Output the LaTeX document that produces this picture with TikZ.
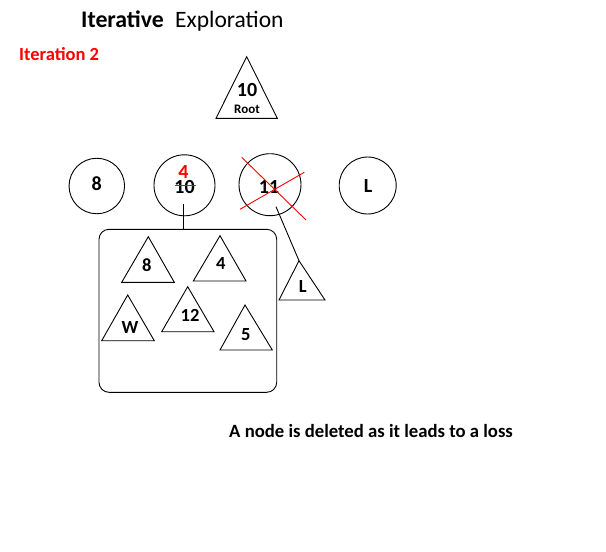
\documentclass[tikz,border=0pt]{standalone}
\usepackage{fontspec}
\setmainfont{Carlito}
\begin{document}
\begin{tikzpicture}[x=1pt,y=-1pt,
  shp/.style={draw=black,line width=0.9pt},
  lbl/.style={anchor=base,inner sep=0pt,text height=0.65em,text depth=0pt,font=\bfseries\fontsize{18.5}{20}\selectfont},
  clbl/.style={anchor=base,inner sep=0pt,text height=0.65em,text depth=0pt,font=\bfseries\fontsize{20}{22}\selectfont},
  circ/.style={draw=black,line width=0.9pt,circle,inner sep=0pt},
  redx/.style={draw=red,line width=0.9pt}]
\useasboundingbox (0,0) rectangle (606,552);
% titles
\node[anchor=base west,inner sep=0pt,font=\bfseries\fontsize{23.8}{26}\selectfont] (t1) at (81,27.5) {Iterative};
\node[anchor=base west,inner sep=0pt,font=\fontsize{23.5}{26}\selectfont] (t2) at (175,27.5) {Exploration};
\node[anchor=base west,inner sep=0pt,text=red,font=\bfseries\fontsize{18.5}{20}\selectfont] (it) at (19,60.5) {Iteration 2};
% root triangle
\draw[shp] (246.7,56.7) coordinate (rA) -- (277.3,118.3) -- (216,118.3) -- cycle;
\node[clbl] (r10) at (247,96) {10};
\node[anchor=base,inner sep=0pt,text height=0.65em,text depth=0pt,font=\bfseries\fontsize{13}{15}\selectfont] (rroot) at (247,113.3) {Root};
% circles
\node[circ,minimum size=55.5pt] (c1) at (96.8,186) {};
\node[clbl] (c1t) at (96.8,190) {8};
\node[circ,minimum size=61pt] (c2) at (184.5,185.3) {};
\node[clbl,text=red] (c2r) at (183.5,178.3) {4};
\node[clbl] (c2t) at (184.5,193.3) {10};
\draw[redx] (175,185.7) coordinate (s1) -- (196,185.7) coordinate (s2);
\node[circ,minimum size=62pt] (c3) at (270,184.7) {};
\node[clbl] (c3t) at (269,193.3) {11};
\draw[redx] (241.7,157.3) coordinate (x1) -- (306,220) coordinate (x2);
\draw[redx] (240,209.3) coordinate (x3) -- (304.3,172.3) coordinate (x4);
\node[circ,minimum size=57pt] (c4) at (367.7,185.5) {};
\node[clbl] (c4t) at (368,192.7) {L};
% box
\node[draw=black,line width=0.9pt,rounded corners=10pt,minimum width=177.7pt,minimum height=163pt,inner sep=0pt] (box) at (187.85,310.8) {};
\coordinate (c2low) at (183.3,204.3);
\draw[shp] (c2low) -- (c2low |- box.north);
% triangle L
\draw[shp] (299,260.7) coordinate (lA) -- (325,300) -- (279,300) -- cycle;
\node[lbl] (lT) at (302.7,292.3) {L};
\coordinate (c3low) at (276,206.7);
\draw[shp] (c3low) -- (lA);
% triangles in box
\draw[shp] (148.3,236.7) -- (174.3,282.3) -- (121.7,282.3) -- cycle;
\node[lbl] (b8) at (146.7,271) {8};
\draw[shp] (220,235.7) -- (246,281) -- (193.3,281) -- cycle;
\node[lbl] (b4) at (220.7,269.3) {4};
\draw[shp] (127.7,295) -- (154.3,340.7) -- (101.7,340.7) -- cycle;
\node[lbl] (bW) at (130,333.3) {W};
\draw[shp] (187.7,286.7) -- (214,331.7) -- (161.7,331.7) -- cycle;
\node[lbl] (b12) at (190,321.7) {12};
\draw[shp] (245,305) -- (272.3,350) -- (220,350) -- cycle;
\node[lbl] (b5) at (245.7,340) {5};
% caption
\node[anchor=base west,inner sep=0pt,font=\bfseries\fontsize{18.7}{21}\selectfont] (cap) at (229,437) {A node is deleted as it leads to a loss};
\end{tikzpicture}
\end{document}
